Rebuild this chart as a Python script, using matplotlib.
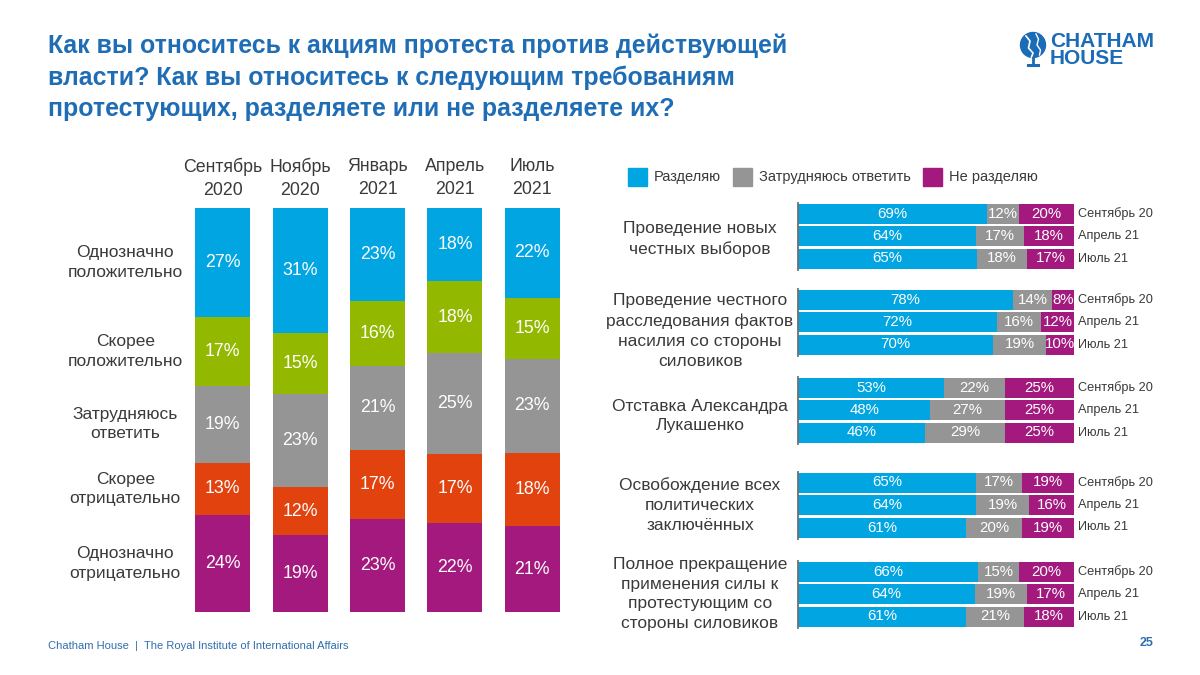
import matplotlib
matplotlib.use("Agg")
import matplotlib.pyplot as plt
from matplotlib.patches import Circle, Rectangle
import numpy as np

plt.rcParams['font.family'] = ['Liberation Sans', 'DejaVu Sans']

# ---------------- data ----------------
title = ("Как вы относитесь к акциям протеста против действующей\n"
         "власти? Как вы относитесь к следующим требованиям\n"
         "протестующих, разделяете или не разделяете их?")

periods = ["Сентябрь\n2020", "Ноябрь\n2020", "Январь\n2021", "Апрель\n2021", "Июль\n2021"]
attitude_labels = ["Однозначно\nположительно", "Скорее\nположительно", "Затрудняюсь\nответить",
                   "Скорее\nотрицательно", "Однозначно\nотрицательно"]
definitely_pos = [27, 31, 23, 18, 22]
rather_pos = [17, 15, 16, 18, 15]
hard_to_say = [19, 23, 21, 25, 23]
rather_neg = [13, 12, 17, 17, 18]
definitely_neg = [24, 19, 23, 22, 21]

demands = ["Проведение новых\nчестных выборов",
           "Проведение честного\nрасследования фактов\nнасилия со стороны\nсиловиков",
           "Отставка Александра\nЛукашенко",
           "Освобождение всех\nполитических\nзаключённых",
           "Полное прекращение\nприменения силы к\nпротестующим со\nстороны силовиков"]
waves = ["Сентябрь 20", "Апрель 21", "Июль 21"]
share = [[69, 64, 65], [78, 72, 70], [53, 48, 46], [65, 64, 61], [66, 64, 61]]
unsure = [[12, 17, 18], [14, 16, 19], [22, 27, 29], [17, 19, 20], [15, 19, 21]]
not_share = [[20, 18, 17], [8, 12, 10], [25, 25, 25], [19, 16, 19], [20, 17, 18]]
legend_labels = ["Разделяю", "Затрудняюсь ответить", "Не разделяю"]

# ---------------- style ----------------
C_BLUE = "#00A5E2"
C_GREEN = "#93B800"
C_GRAY = "#959595"
C_ORANGE = "#E1420E"
C_PURPLE = "#A3197E"
C_TITLE = "#1F6DB4"
C_TEXT = "#3A3A3A"
C_LOGO = "#1B6BB7"

W, H = 1200, 675
fig = plt.figure(figsize=(12, 6.75), dpi=100)
fig.patch.set_facecolor("white")

def fx(px):
    return px / W

def fy(py):
    return 1 - py / H

# title
fig.text(fx(48), fy(33), title, ha="left", va="top", fontsize=17.9, fontweight="bold",
         color=C_TITLE, family=["Liberation Sans Narrow", "Liberation Sans", "DejaVu Sans"],
         linespacing=1.39)

# logo
logo_ax = fig.add_axes([fx(1018), fy(68), fx(30), 40 / H])
logo_ax.set_xlim(0, 30); logo_ax.set_ylim(0, 40); logo_ax.axis("off")
logo_ax.add_patch(Circle((15, 23), 12.5, color=C_LOGO))
logo_ax.plot([8, 12, 10.5, 15, 13.5], [32, 27, 20, 15, 11], color="white", lw=1.2)
logo_ax.plot([18, 20.5, 19, 22.5, 21.5], [34, 29, 23, 18, 13], color="white", lw=1.0)
logo_ax.plot([15, 15], [10, 4], color=C_LOGO, lw=2)
logo_ax.plot([10, 20], [3, 3], color=C_LOGO, lw=2.2)
fig.text(fx(1050), fy(47), "CHATHAM", ha="left", va="baseline", fontsize=15, fontweight="bold",
         color=C_LOGO, family=["Liberation Sans Narrow", "Liberation Sans"])
fig.text(fx(1050), fy(64), "HOUSE", ha="left", va="baseline", fontsize=15, fontweight="bold",
         color=C_LOGO, family=["Liberation Sans Narrow", "Liberation Sans"])

# footer
fig.text(fx(48), fy(646), "Chatham House  |  The Royal Institute of International Affairs",
         ha="left", va="center", fontsize=8, color="#2F6FAE")
fig.text(fx(1153), fy(643), "25", ha="right", va="center", fontsize=9, fontweight="bold",
         color="#2F6FAE")

# ---------------- left chart ----------------
axL = fig.add_axes([fx(184), fy(612), fx(571) - fx(184), (612 - 208) / H])
axL.axis("off")
n = len(periods)
x = np.arange(n)
stack = np.array([definitely_pos, rather_pos, hard_to_say, rather_neg, definitely_neg], dtype=float)
norm = stack / stack.sum(axis=0) * 100
colors_L = [C_BLUE, C_GREEN, C_GRAY, C_ORANGE, C_PURPLE]
top = np.zeros(n)
for k in range(stack.shape[0]):
    axL.bar(x, norm[k], bottom=top, width=0.71, color=colors_L[k], edgecolor="none")
    for i in range(n):
        axL.text(x[i], top[i] + norm[k][i] / 2, f"{int(stack[k][i])}%", ha="center", va="center",
                 fontsize=12.8, color="white")
    top += norm[k]
axL.set_xlim(-0.5, n - 0.5)
axL.set_ylim(100, 0)
for i, p in enumerate(periods):
    axL.text(x[i], -7.4, p, ha="center", va="center", fontsize=12.8, color=C_TEXT, linespacing=1.5,
             clip_on=False)
cum = np.concatenate([[0], np.cumsum(norm[:, 0])])
for k, lab in enumerate(attitude_labels):
    axL.text(-1.26, (cum[k] + cum[k + 1]) / 2, lab, ha="center", va="center", fontsize=12.5,
             color=C_TEXT, linespacing=1.35, clip_on=False)

# ---------------- right chart ----------------
axR = fig.add_axes([fx(798), fy(640), fx(1074) - fx(798), (640 - 195) / H])
axR.axis("off")
axR.set_xlim(0, 100)
axR.set_ylim(640, 195)
group_mid = [236, 322, 410, 505, 594]
label_shift = [3, 9, 6, 0, 0]
row_step = 22.5
for g in range(len(demands)):
    ys = [group_mid[g] + (r - 1) * row_step for r in range(3)]
    for r in range(3):
        vals = np.array([share[g][r], unsure[g][r], not_share[g][r]], dtype=float)
        nv = vals / vals.sum() * 100
        left = 0
        for v, nvv, c in zip(vals, nv, [C_BLUE, C_GRAY, C_PURPLE]):
            axR.barh(ys[r], nvv, left=left, height=20, color=c, edgecolor="none")
            axR.text(left + nvv / 2, ys[r], f"{int(v)}%", ha="center", va="center",
                     fontsize=10.8, color="white")
            left += nvv
        axR.text(101.5, ys[r], waves[r], ha="left", va="center", fontsize=9.2, color=C_TEXT,
                 clip_on=False)
    axR.plot([0, 0], [ys[0] - 11, ys[2] + 11], color="#6F6F6F", lw=1.3, clip_on=False)
    axR.text(-35.5, group_mid[g] + label_shift[g], demands[g], ha="center", va="center",
             fontsize=12.5, color=C_TEXT, linespacing=1.4, clip_on=False)

# legend
leg_items = [(628, C_BLUE, legend_labels[0]), (733, C_GRAY, legend_labels[1]),
             (923, C_PURPLE, legend_labels[2])]
for px, c, lab in leg_items:
    fig.patches.append(Rectangle((fx(px), fy(186)), fx(19), 18 / H, transform=fig.transFigure,
                                 color=c, figure=fig))
    fig.text(fx(px + 26), fy(177), lab, ha="left", va="center", fontsize=10.5, color=C_TEXT)

fig.savefig("out.png", dpi=100, facecolor="white")
